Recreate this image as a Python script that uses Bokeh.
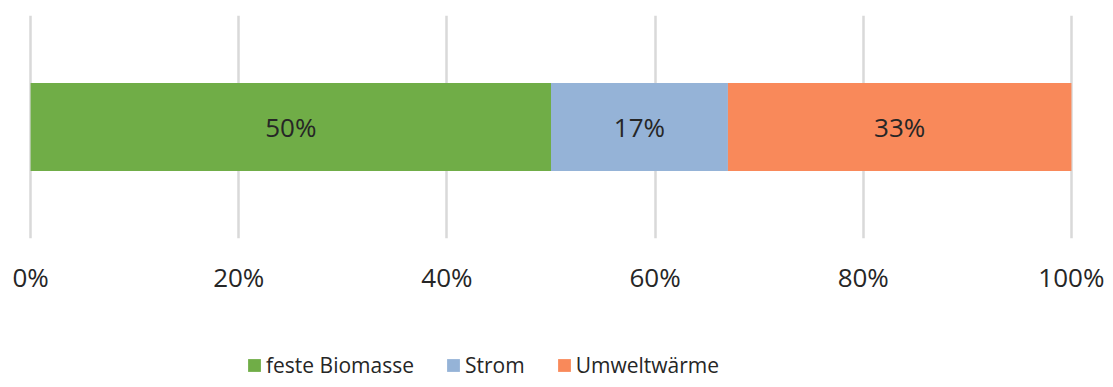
import numpy as np
from bokeh.plotting import figure
from bokeh.layouts import column
from bokeh.models import ColumnDataSource, Range1d, FixedTicker, Legend, LegendItem
from bokeh.core.properties import value
from bokeh.embed import file_html
from bokeh.resources import INLINE

categories = ["feste Biomasse", "Strom", "Umweltwärme"]
shares = [50, 17, 33]
colors = ["#70AD47", "#95B3D7", "#F9895A"]
tick_values = [0, 20, 40, 60, 80, 100]
tick_labels = ["0%", "20%", "40%", "60%", "80%", "100%"]

FONT = "Open Sans"

p = figure(width=1105, height=340, output_backend="svg", toolbar_location=None,
           x_range=Range1d(-0.2, 100.2), y_range=Range1d(0, 1),
           min_border_left=28, min_border_right=32, min_border_top=15, min_border_bottom=102)
p.outline_line_color = None
p.background_fill_color = "white"
p.border_fill_color = "white"

rights = np.cumsum(shares)
lefts = rights - np.array(shares)
src = ColumnDataSource(dict(y=[0.5] * len(shares),
                            mid=(lefts + rights) / 2.0,
                            lab=[f"{v}%" for v in shares]))

for i in range(len(categories)):
    p.hbar(y=0.5, left=float(lefts[i]), right=float(rights[i]), height=0.395,
           fill_color=colors[i], line_color=None)

p.text(x="mid", y="y", text="lab", source=src, text_align="center",
       text_baseline="middle", text_font=value(FONT), text_font_size="26px",
       text_color="#262626", y_offset=0)

p.yaxis.visible = False
p.ygrid.visible = False
p.xgrid.grid_line_color = "#D9D9D9"
p.xgrid.grid_line_width = 2.5
p.xgrid.level = "underlay"

ax = p.xaxis[0]
ax.ticker = FixedTicker(ticks=tick_values)
ax.major_label_overrides = {v: l for v, l in zip(tick_values, tick_labels)}
ax.axis_line_color = None
ax.major_tick_line_color = None
ax.minor_tick_line_color = None
ax.major_tick_out = 0
ax.major_tick_in = 0
ax.major_label_standoff = 20
ax.major_label_text_font = FONT
ax.major_label_text_font_size = "26px"
ax.major_label_text_color = "#262626"

# legend strip below the chart (frames are aligned by the column layout)
lg = figure(width=1105, height=39, output_backend="svg", toolbar_location=None,
            x_range=Range1d(0, 1), y_range=Range1d(0, 1),
            min_border_left=0, min_border_right=0, min_border_top=0, min_border_bottom=0)
lg.axis.visible = False
lg.grid.visible = False
lg.outline_line_color = None
lg.border_fill_color = "white"
renderers = [lg.hbar(y=[-10], left=[0], right=[1], height=0.5, fill_color=c, line_color=None)
             for c in colors]
items = [LegendItem(label=c, renderers=[r]) for c, r in zip(categories, renderers)]
legend = Legend(items=items, orientation="horizontal", location=(218, 0),
                label_text_font=FONT, label_text_font_size="21px",
                label_text_color="#262626", glyph_width=16, glyph_height=16,
                label_standoff=4, spacing=31, padding=0, margin=0,
                border_line_color=None, background_fill_alpha=0)
lg.add_layout(legend, "center")

layout = column(p, lg, spacing=0)
open("out.html", "w").write(file_html(layout, INLINE))
